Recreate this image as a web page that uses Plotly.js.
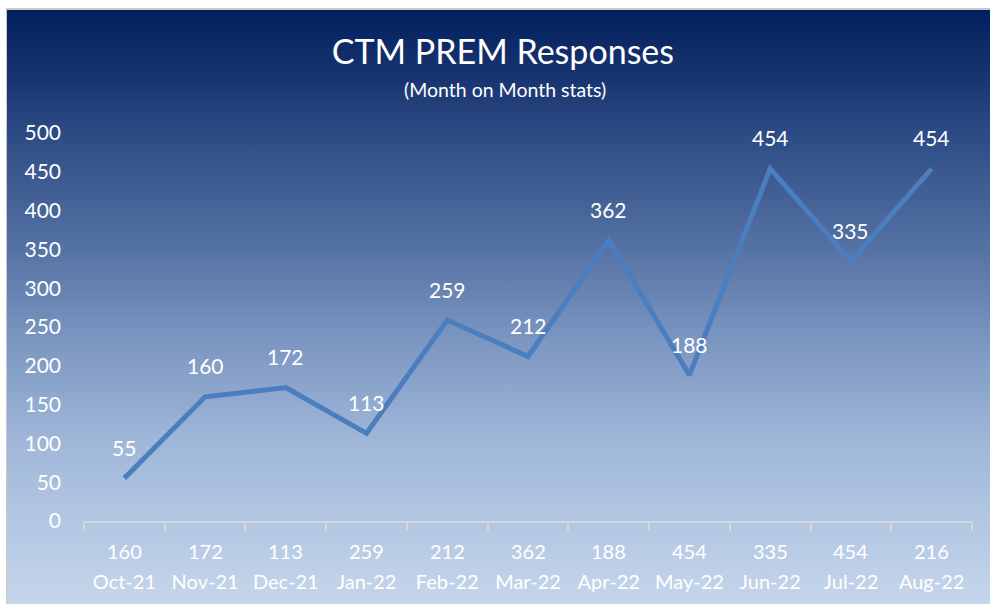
<!DOCTYPE html>
<html>
<head>
<meta charset="utf-8">
<script src="https://cdn.plot.ly/plotly-3.0.1.min.js"></script>
<style>
  html, body { margin: 0; padding: 0; background: #ffffff; }
  #frame { position: absolute; left: 6px; top: 8px; width: 984px; height: 596px;
           border-left: 1px solid #c8c8c8; border-top: 2px solid #c8c8c8;
           background: linear-gradient(to bottom, #02205e 0%, #1a3672 12%, #2f4e86 22%, #5572a4 40%, #7a95c0 55%, #9fb6d8 72%, #b1c6e2 85%, #c6d6eb 100%); }
  #chart { position: absolute; left: 0; top: 0; width: 990px; height: 604px; }
</style>
</head>
<body>
<div id="frame"></div>
<div id="chart"></div>
<script>
// Data
const months = ["Oct-21","Nov-21","Dec-21","Jan-22","Feb-22","Mar-22","Apr-22","May-22","Jun-22","Jul-22","Aug-22"];
const tickNumbers = ["160","172","113","259","212","362","188","454","335","454","216"];
const responses = [55, 160, 172, 113, 259, 212, 362, 188, 454, 335, 454];
const yTicks = [0, 50, 100, 150, 200, 250, 300, 350, 400, 450, 500];

const FONT = "Lato, 'Open Sans', sans-serif";
const WHITE = "#ffffff";

const trace = {
  x: months,
  y: responses,
  type: "scatter",
  mode: "lines",
  line: { color: "#4a7ebf", width: 5, shape: "linear" },
  hoverinfo: "skip"
};

// data labels above each point
const dataLabels = responses.map((v, i) => ({
  x: months[i], y: v, xref: "x", yref: "y",
  text: String(v), showarrow: false,
  xanchor: "center", yanchor: "middle", yshift: 31,
  font: { family: FONT, size: 21, color: WHITE }
}));

// first row of the category labels
const numberRow = tickNumbers.map((t, i) => ({
  x: months[i], y: -0.077, xref: "x", yref: "paper",
  text: t, showarrow: false,
  xanchor: "center", yanchor: "middle",
  font: { family: FONT, size: 20, color: WHITE }
}));

const layout = {
  width: 990,
  height: 604,
  paper_bgcolor: "rgba(0,0,0,0)",
  plot_bgcolor: "rgba(0,0,0,0)",
  margin: { l: 84, r: 18, t: 133, b: 83 },
  showlegend: false,
  font: { family: FONT, color: WHITE, size: 21 },
  title: {
    text: "CTM PREM Responses",
    font: { family: FONT, size: 34, color: WHITE },
    x: 0.508, xanchor: "center",
    y: 0.913, yanchor: "middle", yref: "container"
  },
  annotations: [{
    text: "(Month on Month stats)",
    xref: "paper", yref: "paper",
    x: 0.474, y: 1.113, xanchor: "center", yanchor: "middle",
    showarrow: false,
    font: { family: FONT, size: 19.5, color: WHITE }
  }].concat(dataLabels, numberRow),
  xaxis: {
    type: "category",
    tickmode: "array",
    tickvals: months,
    ticktext: months,
    tickangle: 0,
    tickson: "boundaries",
    ticks: "outside",
    ticklen: 8,
    tickwidth: 2,
    tickcolor: "#d3d8e0",
    showline: true,
    linecolor: "#d3d8e0",
    linewidth: 2,
    showgrid: false,
    zeroline: false,
    ticklabelstandoff: 42,
    tickfont: { family: FONT, size: 20, color: WHITE },
    range: [-0.5, 10.5],
    fixedrange: true
  },
  yaxis: {
    range: [0, 500],
    tickmode: "array",
    tickvals: yTicks,
    ticktext: yTicks.map(String),
    showgrid: false,
    zeroline: false,
    showline: false,
    ticks: "",
    ticklabelstandoff: 22,
    tickfont: { family: FONT, size: 21, color: WHITE },
    fixedrange: true
  }
};

Plotly.newPlot("chart", [trace], layout, { displayModeBar: false, staticPlot: true });
</script>
</body>
</html>
